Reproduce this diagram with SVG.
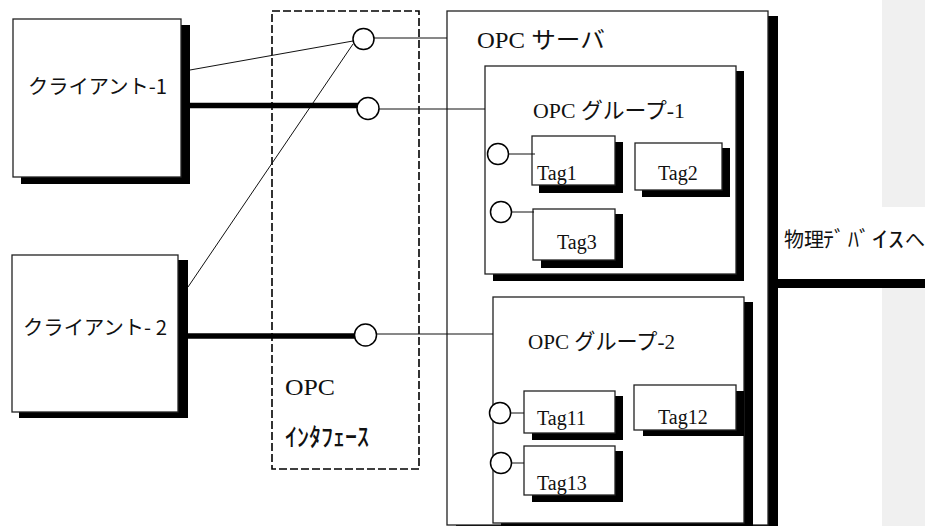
<svg xmlns="http://www.w3.org/2000/svg" width="925" height="526" viewBox="0 0 925 526">
<style>
.box{fill:#fff;stroke:#222;stroke-width:1.3}
.sh{fill:#000}
.thin{stroke:#111;stroke-width:1;fill:none}
.thick{stroke:#000;stroke-width:5.5;fill:none}
.port{fill:#fff;stroke:#000;stroke-width:1.5}
.sans{font-family:"Noto Sans CJK JP",sans-serif;fill:#111}
.serif{font-family:"Liberation Serif","Noto Sans CJK JP",serif;fill:#111}
.tag{font-size:20px}
.dash{fill:none;stroke:#000;stroke-width:1.6;stroke-dasharray:8 3}
</style>
<rect x="0" y="0" width="925" height="526" fill="#fff"/>
<rect x="882" y="0" width="43" height="526" fill="#f0f0f0"/>
<rect x="780" y="207" width="145" height="72" fill="#fff"/>

<g id="client1">
<rect class="sh" x="21" y="25" width="169" height="159"/>
<rect class="box" x="13" y="19" width="168" height="158"/>
<text class="sans" x="28" y="94" font-size="20" textLength="139" lengthAdjust="spacingAndGlyphs">クライアント-1</text>
</g>

<g id="client2">
<rect class="sh" x="19" y="260" width="169" height="158"/>
<rect class="box" x="12" y="255" width="166" height="157"/>
<text class="sans" x="23" y="335" font-size="20" textLength="144" lengthAdjust="spacingAndGlyphs">クライアント- 2</text>
</g>

<g id="opc-interface">
<rect class="dash" x="272" y="11" width="147" height="458"/>
<text class="serif" x="285" y="395" font-size="23" textLength="50" lengthAdjust="spacingAndGlyphs">OPC</text>
<text class="sans" x="285" y="446" font-size="25" font-weight="500" textLength="84" lengthAdjust="spacingAndGlyphs">ｲﾝﾀﾌｪｰｽ</text>
</g>

<g id="opc-server">
<rect class="sh" x="456" y="16" width="322" height="515"/>
<rect class="box" x="447" y="11" width="321" height="514"/>
<text class="serif" x="477" y="48" font-size="23" textLength="128" lengthAdjust="spacingAndGlyphs">OPC サーバ</text>
</g>

<g id="group1">
<rect class="sh" x="493" y="71" width="251" height="210"/>
<rect class="box" x="485" y="66" width="251" height="208"/>
<text class="serif" x="533" y="118" font-size="22" textLength="152" lengthAdjust="spacingAndGlyphs">OPC グループ-1</text>
</g>

<g id="tag1">
<rect class="sh" x="539" y="142" width="84" height="51"/>
<rect class="box" x="532" y="136" width="83" height="49"/>
<text class="serif tag" x="537" y="180">Tag1</text>
</g>
<g id="tag2">
<rect class="sh" x="642" y="148" width="88" height="49"/>
<rect class="box" x="635" y="143" width="87" height="47"/>
<text class="serif tag" x="658" y="180">Tag2</text>
</g>
<g id="tag3">
<rect class="sh" x="541" y="214" width="82" height="54"/>
<rect class="box" x="533" y="209" width="82" height="51"/>
<text class="serif tag" x="557" y="249">Tag3</text>
</g>

<g id="group2">
<rect class="sh" x="501" y="302" width="252" height="230"/>
<rect class="box" x="493" y="297" width="251" height="226"/>
<text class="serif" x="528" y="349" font-size="22" textLength="147" lengthAdjust="spacingAndGlyphs">OPC グループ-2</text>
</g>

<g id="tag11">
<rect class="sh" x="532" y="396" width="91" height="44"/>
<rect class="box" x="524" y="391" width="91" height="42"/>
<text class="serif tag" x="537" y="425">Tag11</text>
</g>
<g id="tag12">
<rect class="sh" x="643" y="391" width="101" height="45"/>
<rect class="box" x="634" y="385" width="102" height="45"/>
<text class="serif tag" x="658" y="424">Tag12</text>
</g>
<g id="tag13">
<rect class="sh" x="532" y="451" width="91" height="51"/>
<rect class="box" x="524" y="446" width="91" height="49"/>
<text class="serif tag" x="537" y="490">Tag13</text>
</g>

<g id="physical-device">
<text class="sans" y="247" font-size="20"><tspan x="784">物理</tspan><tspan x="823" font-size="22">ﾃﾞ</tspan><tspan x="848" font-size="22">ﾊﾞ</tspan><tspan x="872" font-size="22" textLength="32" lengthAdjust="spacingAndGlyphs">ｲｽ</tspan><tspan x="905">へ</tspan></text>
</g>

<g id="connectors">
<line class="thin" x1="190" y1="70" x2="353" y2="41"/>
<line class="thin" x1="353" y1="44" x2="188" y2="287"/>
<line class="thin" x1="374" y1="38" x2="447" y2="38"/>
<line class="thick" x1="190" y1="105.5" x2="358" y2="105.5"/>
<line class="thin" x1="379" y1="109" x2="485" y2="109"/>
<line class="thick" x1="188" y1="336" x2="356" y2="336"/>
<line class="thin" x1="376" y1="334" x2="493" y2="334"/>
<line class="thin" x1="508" y1="154" x2="535" y2="154"/>
<line class="thin" x1="511" y1="212" x2="534" y2="212"/>
<line class="thin" x1="510" y1="413" x2="524" y2="413"/>
<line class="thin" x1="511" y1="463" x2="524" y2="463"/>
<rect x="778" y="279" width="147" height="9" fill="#000"/>
</g>

<g id="ports">
<circle class="port" cx="363.5" cy="39" r="10.5"/>
<circle class="port" cx="368" cy="108.5" r="11"/>
<circle class="port" cx="365.5" cy="335" r="11"/>
<circle class="port" cx="498" cy="154" r="10.5"/>
<circle class="port" cx="501" cy="212" r="10.5"/>
<circle class="port" cx="500" cy="413" r="10.5"/>
<circle class="port" cx="501" cy="463" r="10.5"/>
</g>
</svg>
